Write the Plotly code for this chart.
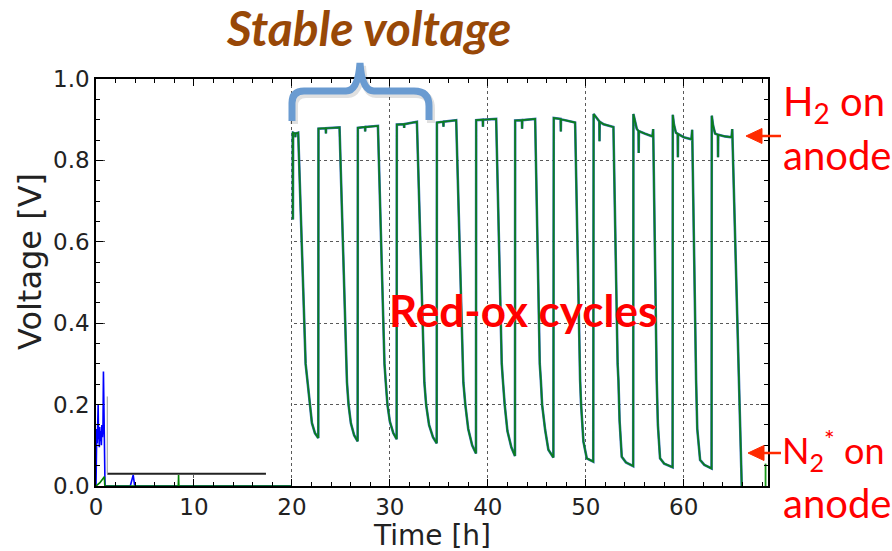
import plotly.graph_objects as go

# ---- start-up transient (0-20 h) ----
early_blue_t = [0.00, 0.03, 0.08, 0.13, 0.18, 0.22, 0.26, 0.30, 0.34, 0.38, 0.44, 0.50,
                0.55, 0.60, 0.66, 0.71, 0.76, 0.80, 0.84, 0.88, 0.92, 3.50, 3.62, 3.80, 3.95, 20.0]
early_blue_v = [0.000, 0.120, 0.140, 0.105, 0.150, 0.200, 0.115, 0.130, 0.095, 0.145, 0.110, 0.135,
                0.100, 0.150, 0.120, 0.140, 0.281, 0.160, 0.120, 0.030, 0.000, 0.000, 0.010, 0.027, 0.000, 0.000]
early_green_t = [0.00, 0.40, 0.70, 0.85, 0.90, 8.40, 8.43, 8.46, 20.0]
early_green_v = [0.000, 0.008, 0.018, 0.023, 0.000, 0.000, 0.027, 0.000, 0.000]

# ---- red-ox cycling (20-66 h) ----
cyc_t = [
    20.00, 20.08, 20.10, 20.12, 20.33, 20.35, 20.37, 20.64,
    21.40, 21.60, 21.80, 22.04, 22.35, 22.69,
    22.71, 23.45, 23.47, 23.49, 24.86,
    25.50, 25.62, 25.78, 26.02, 26.35, 26.71,
    26.73, 27.46, 27.48, 27.50, 28.78,
    29.45, 29.58, 29.75, 30.00, 30.35, 30.69,
    30.71, 31.44, 31.46, 31.48, 32.76,
    33.40, 33.52, 33.70, 34.00, 34.40, 34.78,
    34.80, 35.45, 35.47, 35.49, 36.77,
    37.38, 37.50, 37.70, 38.00, 38.40, 38.79,
    38.81, 39.48, 39.50, 39.52, 40.85,
    41.42, 41.55, 41.72, 42.00, 42.40, 42.77,
    42.79, 43.48, 43.50, 43.52, 44.83,
    45.30, 45.41, 45.54, 45.85, 46.18, 46.69,
    46.73, 47.43, 47.45, 47.47, 48.91,
    49.35, 49.42, 49.52, 49.76, 50.10, 50.76,
    50.80, 51.10, 51.38, 51.40, 51.42, 51.80, 52.30, 52.82,
    53.25, 53.33, 53.45, 53.67, 54.10, 54.84,
    54.86, 55.00, 55.20, 55.38, 55.40, 55.42, 56.00, 56.80, 56.88,
    57.15, 57.24, 57.36, 57.58, 58.00, 58.86,
    58.88, 59.00, 59.20, 59.38, 59.40, 59.42, 60.00, 60.78, 60.86,
    61.18, 61.26, 61.38, 61.67, 62.10, 62.84,
    62.86, 63.00, 63.20, 63.48, 63.50, 63.52, 64.20, 64.88, 64.95,
    65.92,
]
cyc_v = [
    0.868, 0.868, 0.655, 0.868, 0.866, 0.857, 0.866, 0.868,
    0.300, 0.255, 0.200, 0.155, 0.130, 0.118,
    0.878, 0.879, 0.866, 0.879, 0.881,
    0.300, 0.255, 0.200, 0.154, 0.125, 0.110,
    0.880, 0.882, 0.871, 0.882, 0.885,
    0.300, 0.255, 0.200, 0.158, 0.130, 0.115,
    0.888, 0.889, 0.880, 0.889, 0.895,
    0.300, 0.255, 0.200, 0.150, 0.120, 0.105,
    0.893, 0.895, 0.883, 0.895, 0.899,
    0.300, 0.255, 0.200, 0.140, 0.100, 0.080,
    0.899, 0.900, 0.883, 0.900, 0.902,
    0.300, 0.255, 0.200, 0.135, 0.095, 0.074,
    0.898, 0.899, 0.878, 0.899, 0.902,
    0.300, 0.260, 0.200, 0.138, 0.089, 0.070,
    0.904, 0.902, 0.871, 0.901, 0.893,
    0.300, 0.260, 0.200, 0.109, 0.068, 0.060,
    0.914, 0.903, 0.896, 0.847, 0.895, 0.889, 0.885, 0.882,
    0.300, 0.260, 0.160, 0.072, 0.058, 0.049,
    0.914, 0.895, 0.878, 0.872, 0.818, 0.872, 0.866, 0.859, 0.877,
    0.300, 0.260, 0.150, 0.068, 0.055, 0.046,
    0.912, 0.888, 0.868, 0.865, 0.808, 0.865, 0.857, 0.852, 0.875,
    0.300, 0.260, 0.140, 0.064, 0.052, 0.043,
    0.910, 0.885, 0.866, 0.863, 0.808, 0.863, 0.859, 0.857, 0.877,
    0.000,
]

# ---- restart at the end of the record ----
tail_t = [68.35, 68.35]
tail_v = [0.000, 0.055]

x_ticks = [0, 10, 20, 30, 40, 50, 60]
y_ticks = [0.0, 0.2, 0.4, 0.6, 0.8, 1.0]

W, H = 892, 551
L, R, T, B = 96, 768, 79, 486


def px(x):
    return (x - L) / (R - L)


def py(y):
    return (B - y) / (B - T)


def path(points, close=False):
    s = ""
    for cmd, *xy in points:
        coords = " ".join(f"{px(xy[j]):.5f},{py(xy[j + 1]):.5f}" for j in range(0, len(xy), 2))
        s += f"{cmd} {coords} "
    return s + ("Z" if close else "")


fig = go.Figure()

fig.add_trace(go.Scatter(x=early_blue_t, y=early_blue_v, mode="lines",
                         line=dict(color="#0000ff", width=1.6), hoverinfo="skip"))
fig.add_trace(go.Scatter(x=early_green_t, y=early_green_v, mode="lines",
                         line=dict(color="#008000", width=1.6), hoverinfo="skip"))
fig.add_trace(go.Scatter(x=cyc_t, y=cyc_v, mode="lines",
                         line=dict(color="#3b6fb5", width=2.6), hoverinfo="skip"))
fig.add_trace(go.Scatter(x=cyc_t, y=cyc_v, mode="lines",
                         line=dict(color="#0a7d1e", width=1.7), hoverinfo="skip"))
fig.add_trace(go.Scatter(x=tail_t, y=tail_v, mode="lines",
                         line=dict(color="#1a9a1a", width=1.8), hoverinfo="skip"))

shapes = [
    # blank panel over the start-up period (sits above the grid, below the traces)
    dict(type="rect", xref="x", yref="y", x0=1.15, x1=19.9, y0=0.03, y1=1.0,
         fillcolor="white", line=dict(width=0), layer="between"),
    dict(type="line", xref="x", yref="y", x0=1.15, x1=17.35, y0=0.03, y1=0.03,
         line=dict(color="#222222", width=2), layer="between"),
    dict(type="line", xref="x", yref="y", x0=1.15, x1=1.15, y0=0.03, y1=0.22,
         line=dict(color="#999999", width=1), layer="between"),
]

# curly brace over the first cycles
brace = [("M", 292, 121), ("L", 292, 103), ("Q", 292, 91, 304, 91), ("L", 346, 91),
         ("Q", 358, 91, 360, 63), ("Q", 362, 91, 374, 91), ("L", 414, 91),
         ("Q", 429, 91, 429, 106), ("L", 429, 120)]
brace_shadow = [(c, *[v + (2 if k % 2 == 0 else 3) for k, v in enumerate(xy)]) for c, *xy in brace]
shapes.append(dict(type="path", xref="paper", yref="paper", path=path(brace_shadow),
                   line=dict(color="rgba(0,0,0,0.12)", width=8)))
shapes.append(dict(type="path", xref="paper", yref="paper", path=path(brace),
                   line=dict(color="#6a9bd1", width=7)))

# red arrows on the right
for ya, tip in [(136, 746), (453, 748)]:
    shapes.append(dict(type="line", xref="paper", yref="paper",
                       x0=px(781), x1=px(tip + 14), y0=py(ya), y1=py(ya),
                       line=dict(color="#ff2a00", width=2.5)))
    shapes.append(dict(type="path", xref="paper", yref="paper",
                       path=path([("M", tip, ya), ("L", tip + 16, ya - 7.5), ("L", tip + 16, ya + 7.5)], True),
                       fillcolor="#ff2a00", line=dict(color="#ff2a00", width=1)))


def label(text, x, y, size, color, family="Lato", xanchor="center", angle=0):
    return dict(text=text, x=px(x), y=py(y), xref="paper", yref="paper",
                xanchor=xanchor, yanchor="middle", textangle=angle, showarrow=False,
                font=dict(family=family, size=size, color=color))


annotations = [
    label("<b><i>Stable voltage</i></b>", 368, 28, 48, "#984807"),
    label("<b>Red-ox cycles</b>", 523, 310, 44, "#ff0000"),
    label("H<sub>2</sub> on", 781, 103, 40, "#ff0000", xanchor="left"),
    label("anode", 781, 155, 40, "#ff0000", xanchor="left"),
    label("N<sub>2</sub><sup>*</sup> on", 780, 450, 36, "#ff0000", xanchor="left"),
    label("anode", 781, 503, 40, "#ff0000", xanchor="left"),
    label("Voltage [V]", 30, 262, 32, "#222222", family="DejaVu Sans", angle=-90),
    label("Time [h]", 432, 535, 28, "#222222", family="DejaVu Sans"),
]

axis_common = dict(
    showline=True, linecolor="black", linewidth=1.5, mirror="allticks",
    ticks="inside", ticklen=7, tickwidth=1, tickcolor="black",
    showgrid=True, gridcolor="rgba(0,0,0,0.65)", gridwidth=1, griddash="dot",
    zeroline=False, tickfont=dict(family="DejaVu Sans", size=23, color="#222222"),
)

fig.update_layout(
    width=W, height=H, margin=dict(l=L, r=W - R, t=T, b=H - B),
    paper_bgcolor="white", plot_bgcolor="white", showlegend=False,
    shapes=shapes, annotations=annotations,
    xaxis=dict(range=[0, 68.6], tickvals=x_ticks, ticktext=[str(v) for v in x_ticks],
               minor=dict(dtick=2, tick0=0, ticks="inside", ticklen=4, tickcolor="black", showgrid=False),
               **axis_common),
    yaxis=dict(range=[0, 1.0], tickvals=y_ticks, ticktext=[f"{v:.1f}" for v in y_ticks],
               minor=dict(dtick=0.05, tick0=0, ticks="inside", ticklen=4, tickcolor="black", showgrid=False),
               **axis_common),
)

fig.write_html("out.html")
